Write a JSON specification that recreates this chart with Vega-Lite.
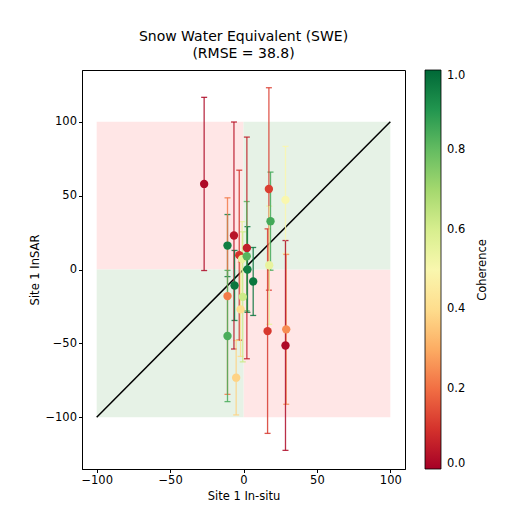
{
  "$schema": "https://vega.github.io/schema/vega-lite/v6.json",
  "width": 323,
  "height": 399,
  "autosize": "none",
  "padding": {"left": 82, "top": 70, "right": 114, "bottom": 56},
  "background": "white",
  "title": {
    "text": ["Snow Water Equivalent (SWE)", "(RMSE = 38.8)"],
    "font": "DejaVu Sans",
    "fontSize": 14,
    "fontWeight": "normal",
    "color": "black",
    "offset": 6,
    "lineHeight": 17
  },
  "config": {
    "font": "DejaVu Sans",
    "view": {"stroke": "black", "strokeWidth": 1},
    "axis": {
      "grid": false,
      "domainColor": "black",
      "tickColor": "black",
      "tickSize": 3.5,
      "labelFontSize": 11.5,
      "labelColor": "black",
      "labelFont": "DejaVu Sans",
      "titleFont": "DejaVu Sans",
      "titleFontSize": 11.5,
      "titleFontWeight": "normal",
      "titleColor": "black"
    }
  },
  "datasets": {
    "pts": [
      {"insitu": -26.8, "insar": 57.9, "err": 58.6, "coherence": 0.02},
      {"insitu": -10.9, "insar": 16.2, "err": 21.0, "coherence": 0.95},
      {"insitu": -6.5, "insar": 23.0, "err": 76.8, "coherence": 0.04},
      {"insitu": -10.9, "insar": -18.0, "err": 66.5, "coherence": 0.22},
      {"insitu": -10.9, "insar": -45.0, "err": 44.4, "coherence": 0.84},
      {"insitu": -6.1, "insar": -10.8, "err": 23.7, "coherence": 0.97},
      {"insitu": -5.0, "insar": -73.2, "err": 25.2, "coherence": 0.38},
      {"insitu": -2.9, "insar": 9.7, "err": 57.5, "coherence": 0.1},
      {"insitu": -2.0, "insar": -27.0, "err": 31.8, "coherence": 0.4},
      {"insitu": -0.9, "insar": 7.2, "err": 25.2, "coherence": 0.55},
      {"insitu": -0.5, "insar": -18.5, "err": 44.0, "coherence": 0.62},
      {"insitu": 2.3, "insar": 14.6, "err": 75.0, "coherence": 0.06},
      {"insitu": 2.2, "insar": 9.0, "err": 37.0, "coherence": 0.82},
      {"insitu": 2.7, "insar": 0.0, "err": 29.0, "coherence": 0.95},
      {"insitu": 6.6, "insar": -8.1, "err": 23.0, "coherence": 0.97},
      {"insitu": 17.3, "insar": 54.5, "err": 68.5, "coherence": 0.12},
      {"insitu": 18.4, "insar": 32.7, "err": 33.2, "coherence": 0.85},
      {"insitu": 17.5, "insar": 2.9, "err": 40.0, "coherence": 0.55},
      {"insitu": 16.4, "insar": -41.7, "err": 69.2, "coherence": 0.11},
      {"insitu": 28.6, "insar": 47.1, "err": 36.2, "coherence": 0.5},
      {"insitu": 29.1, "insar": -40.5, "err": 50.7, "coherence": 0.25},
      {"insitu": 28.6, "insar": -51.4, "err": 71.0, "coherence": 0.02}
    ],
    "redq": [
      {"x1": -100, "x2": 0, "y1": 0, "y2": 100},
      {"x1": 0, "x2": 100, "y1": -100, "y2": 0}
    ],
    "greenq": [
      {"x1": 0, "x2": 100, "y1": 0, "y2": 100},
      {"x1": -100, "x2": 0, "y1": -100, "y2": 0}
    ],
    "diag": [
      {"x": -100, "y": -100},
      {"x": 100, "y": 100}
    ]
  },
  "resolve": {"scale": {"y": "independent"}, "axis": {"y": "independent"}},
  "layer": [
    {
      "resolve": {"legend": {"color": "independent"}},
      "layer": [
        {
          "data": {"name": "redq"},
          "mark": {"type": "rect", "color": "#ffe6e6"},
          "encoding": {
            "x": {"field": "x1", "type": "quantitative", "title": "Site 1 In-situ", "scale": {"domain": [-110, 110], "nice": false}, "axis": {"values": [-100, -50, 0, 50, 100]}},
            "x2": {"field": "x2"},
            "y": {"field": "y1", "type": "quantitative", "title": "Site 1 InSAR", "scale": {"domain": [-135, 135], "nice": false}, "axis": {"values": [-100, -50, 0, 50, 100]}},
            "y2": {"field": "y2"}
          }
        },
        {
          "data": {"name": "greenq"},
          "mark": {"type": "rect", "color": "#e6f2e6"},
          "encoding": {
            "x": {"field": "x1", "type": "quantitative", "title": "Site 1 In-situ"},
            "x2": {"field": "x2"},
            "y": {"field": "y1", "type": "quantitative", "title": "Site 1 InSAR"},
            "y2": {"field": "y2"}
          }
        },
        {
          "data": {"name": "diag"},
          "mark": {"type": "line", "color": "black", "strokeWidth": 1.5},
          "encoding": {
            "x": {"field": "x", "type": "quantitative", "title": "Site 1 In-situ"},
            "y": {"field": "y", "type": "quantitative", "title": "Site 1 InSAR"}
          }
        },
        {
          "data": {"name": "pts"},
          "mark": {"type": "errorbar", "ticks": {"size": 6}, "thickness": 1.3, "opacity": 0.85},
          "encoding": {
            "x": {"field": "insitu", "type": "quantitative", "title": "Site 1 In-situ"},
            "y": {"field": "insar", "type": "quantitative", "title": "Site 1 InSAR"},
            "yError": {"field": "err"},
            "color": {"field": "coherence", "type": "quantitative", "title": null, "scale": {"scheme": "redyellowgreen", "domain": [0, 1]}, "legend": null}
          }
        },
        {
          "data": {"name": "pts"},
          "mark": {"type": "circle", "size": 70, "opacity": 1},
          "encoding": {
            "x": {"field": "insitu", "type": "quantitative", "title": "Site 1 In-situ"},
            "y": {"field": "insar", "type": "quantitative", "title": "Site 1 InSAR"},
            "color": {
              "field": "coherence", "type": "quantitative", "title": null,
              "scale": {"scheme": "redyellowgreen", "domain": [0, 1]},
              "legend": {
                "type": "gradient",
                "orient": "none", "legendX": 343, "legendY": 0,
                "direction": "vertical",
                "gradientLength": 399, "gradientThickness": 16,
                "gradientStrokeColor": "black", "gradientStrokeWidth": 0.8,
                "values": [0, 0.2, 0.4, 0.6, 0.8, 1],
                "format": ".1f",
                "labelFontSize": 11.5, "labelColor": "black", "labelOffset": 6,
                "labelBaseline": "middle", "labelOverlap": false,
                "title": null,
                "padding": 0
              }
            }
          }
        }
      ]
    },
    {
      "data": {"name": "diag"},
      "mark": {"type": "point", "opacity": 0},
      "encoding": {
        "y": {
          "field": "y", "type": "quantitative", "title": "Coherence",
          "axis": {"orient": "right", "labels": false, "ticks": false, "domain": false, "grid": false, "titleAngle": -90, "titlePadding": 82}
        }
      }
    }
  ]
}
